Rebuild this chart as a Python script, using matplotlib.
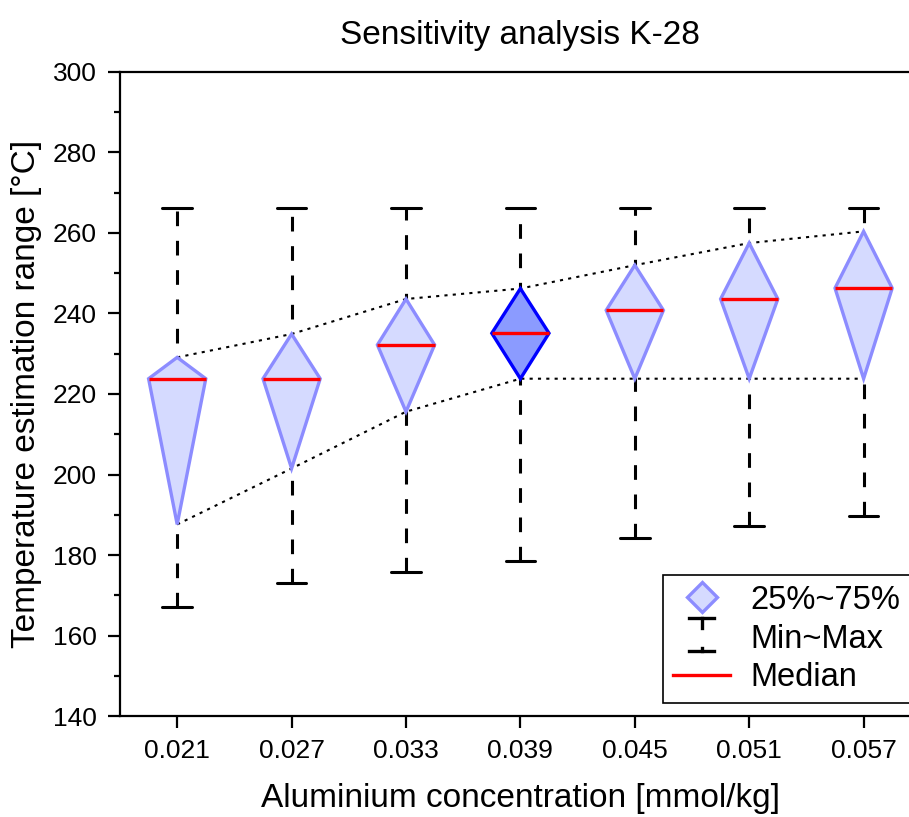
import matplotlib
matplotlib.use("Agg")
import matplotlib.pyplot as plt
from matplotlib.patches import Polygon
from matplotlib.lines import Line2D
from matplotlib.legend_handler import HandlerBase

plt.rcParams['font.family'] = ['Liberation Sans', 'DejaVu Sans']

# data
labels = ["0.021", "0.027", "0.033", "0.039", "0.045", "0.051", "0.057"]
t_min = [167.2, 173.0, 175.8, 178.5, 184.2, 187.1, 189.8]
t_max = [266.2, 266.2, 266.2, 266.2, 266.2, 266.2, 266.2]
q1 = [187.6, 201.5, 215.6, 223.8, 223.8, 223.8, 223.8]
median = [223.8, 223.8, 232.2, 235.1, 240.8, 243.6, 246.3]
q3 = [229.1, 234.9, 243.6, 246.2, 252.0, 257.5, 260.4]
highlight = 3  # reference case drawn darker

x = list(range(len(labels)))
hw = 0.25   # diamond half width
cw = 0.13   # cap half width

fig = plt.figure(figsize=(9.09, 8.17), dpi=100)
ax = fig.add_axes([0.132, 0.1236, 0.881, 0.7883])

# whiskers + caps
for i in x:
    ax.plot([i, i], [t_min[i], t_max[i]], color='black', lw=2.2,
            dashes=(4.8, 4.8), zorder=1)
    ax.plot([i - cw, i + cw], [t_min[i], t_min[i]], color='black', lw=2.2,
            solid_capstyle='round', zorder=2)
    ax.plot([i - cw, i + cw], [t_max[i], t_max[i]], color='black', lw=2.2,
            solid_capstyle='round', zorder=2)

# dotted envelopes through the box ends
ax.plot(x, q3, color='black', lw=1.5, ls=(0, (1.5, 2.5)), zorder=2)
ax.plot(x, q1, color='black', lw=1.5, ls=(0, (1.5, 2.5)), zorder=2)

# diamonds
for i in x:
    pts = [(i, q1[i]), (i - hw, median[i]), (i, q3[i]), (i + hw, median[i])]
    if i == highlight:
        fc, ec = '#8b9bff', '#0000ff'
    else:
        fc, ec = '#d5daff', '#8c8cff'
    ax.add_patch(Polygon(pts, closed=True, facecolor=fc, edgecolor=ec,
                         lw=2.4, joinstyle='miter', zorder=3))
    ax.plot([i - hw, i + hw], [median[i], median[i]], color='red', lw=2.4,
            solid_capstyle='butt', zorder=4)

ax.set_xlim(-0.5, 6.5)
ax.set_ylim(140, 300)
ax.set_xticks(x)
ax.set_xticklabels(labels)
ax.set_yticks(range(140, 301, 20))
ax.set_yticks(range(150, 300, 20), minor=True)
ax.tick_params(axis='both', which='major', direction='out', length=8.5,
               width=1.6, labelsize=19)
ax.tick_params(axis='x', which='major', pad=8)
ax.tick_params(axis='y', which='major', pad=8)
ax.tick_params(axis='y', which='minor', direction='out', length=4.5, width=1.6)
for s in ax.spines.values():
    s.set_linewidth(1.6)

ax.set_title("Sensitivity analysis K-28", fontsize=24, pad=20)
ax.set_xlabel("Aluminium concentration [mmol/kg]", fontsize=24, va='center')
ax.set_ylabel("Temperature estimation range [°C]", fontsize=24, va='center')
ax.xaxis.set_label_coords(0.5, -0.1273)
ax.yaxis.set_label_coords(-0.1172, 0.5)


class MinMaxHandler(HandlerBase):
    def create_artists(self, legend, orig_handle, xd, yd, width, height,
                       fontsize, trans):
        cx = width / 2 - xd
        cy = height / 2 - yd
        top = Line2D([cx - 9, cx + 9], [cy + 13, cy + 13], color='black', lw=2.4)
        stem1 = Line2D([cx, cx], [cy + 13, cy + 6], color='black', lw=2.4)
        bot = Line2D([cx - 9, cx + 9], [cy - 11, cy - 11], color='black', lw=2.4)
        stem2 = Line2D([cx, cx], [cy - 11, cy - 8.5], color='black', lw=2.4)
        arts = [top, stem1, bot, stem2]
        for a in arts:
            a.set_transform(trans)
        return arts


h_box = Line2D([], [], marker='D', markersize=15.5, markerfacecolor='#d5daff',
               markeredgecolor='#8c8cff', markeredgewidth=2.4, ls='none')
h_mm = Line2D([], [])
h_med = Line2D([], [], color='red', lw=2.4)
leg = ax.legend([h_box, h_mm, h_med], ["25%~75%", "Min~Max", "Median"],
                handler_map={h_mm: MinMaxHandler()},
                loc='lower right', bbox_to_anchor=(0.986, 0.02),
                fontsize=23.5, frameon=True, fancybox=False, edgecolor='black',
                framealpha=1, borderpad=0.3, labelspacing=0.24,
                handlelength=1.75, handletextpad=0.6, borderaxespad=0)
leg.get_frame().set_linewidth(1.2)

fig.savefig("out.png", dpi=100)
